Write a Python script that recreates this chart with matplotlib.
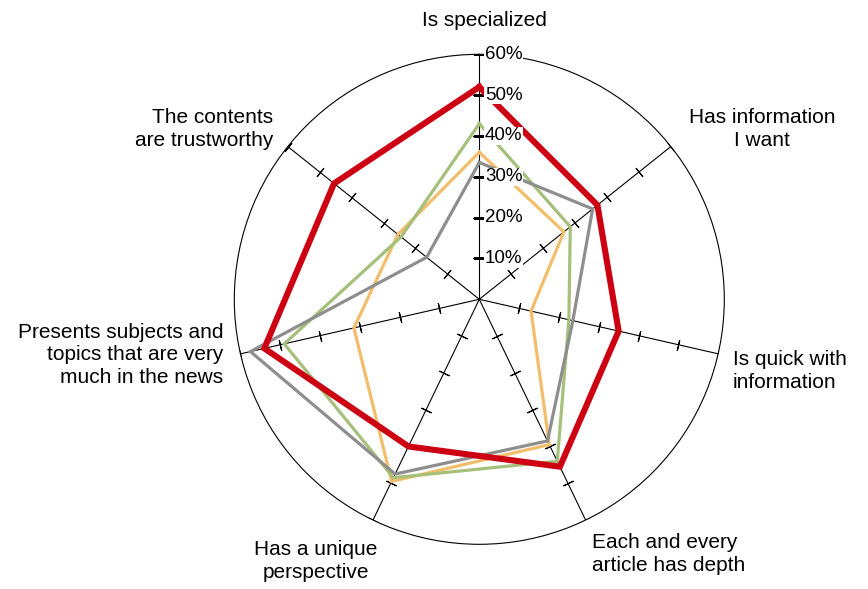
import numpy as np
import matplotlib
matplotlib.use('Agg')
import matplotlib.pyplot as plt

plt.rcParams['font.family'] = ['Liberation Sans', 'DejaVu Sans']

# Axis categories, clockwise from the top
categories = [
    'Is specialized',
    'Has information\nI want',
    'Is quick with\ninformation',
    'Each and every\narticle has depth',
    'Has a unique\nperspective',
    'Presents subjects and\ntopics that are very\nmuch in the news',
    'The contents\nare trustworthy',
]

# Share of respondents (%) per series
series_red = [52, 37, 35, 45.5, 40, 54, 45.5]
series_green = [43, 28.5, 22.5, 44, 48.5, 49, 24.5]
series_gray = [33.5, 35.5, 23.5, 38.5, 47.5, 57.5, 16.5]
series_orange = [36, 26.5, 13, 39.5, 49.5, 31.5, 25.5]

radial_ticks = [10, 20, 30, 40, 50, 60]

W, H = 868, 589
fig = plt.figure(figsize=(W / 100, H / 100), dpi=100)

# circle centre (479, 299), radius 245 px
cx, cy, rad = 479.3, 299.3, 245
ax = fig.add_axes([(cx - rad) / W, 1 - (cy + rad) / H, 2 * rad / W, 2 * rad / H],
                  projection='polar')
ax.set_theta_offset(np.pi / 2)
ax.set_theta_direction(-1)
ax.set_ylim(0, 60)
ax.grid(False)
ax.set_xticks([])
ax.set_yticks([])
ax.spines['polar'].set_linewidth(0.8)

n = len(categories)
angles = np.arange(n) * 2 * np.pi / n

# spokes with perpendicular tick marks
for a in angles:
    ax.plot([a, a], [0, 60], color='black', lw=0.8, zorder=1)
    screen_deg = 90 - np.degrees(a)
    ax.plot([a] * len(radial_ticks), radial_ticks, ls='none',
            marker=(2, 2, screen_deg), ms=8, mew=0.8, color='black', zorder=1)

closed = np.append(angles, angles[0])
for vals, color, lw, z in [(series_orange, '#F3BE6B', 2.3, 2),
                           (series_green, '#A6BF7A', 2.3, 3),
                           (series_gray, '#8E8E8E', 2.3, 4),
                           (series_red, '#CC0012', 4.4, 5)]:
    ax.plot(closed, vals + vals[:1], color=color, lw=lw,
            solid_joinstyle='miter', zorder=z)

# radial labels along the top spoke
for r in radial_ticks:
    ax.annotate(f'{r}%', xy=(0, r), xytext=(4, 0), textcoords='offset points',
                ha='left', va='center', fontsize=13.5, zorder=10,
                bbox=dict(facecolor='white', edgecolor='none', pad=0.5))

# category labels (pixel positions of the reference layout)
label_pos = [
    (484, 21, 'center'),
    (762, 129, 'center'),
    (733, 371, 'left'),
    (592, 554, 'left'),
    (316, 561, 'center'),
    (223, 355, 'right'),
    (273, 129, 'right'),
]
for text, (x, y, ha) in zip(categories, label_pos):
    fig.text(x / W, 1 - y / H, text, ha=ha, va='center', fontsize=15,
             multialignment=ha, linespacing=1.25)

fig.savefig('out.png', dpi=100)
